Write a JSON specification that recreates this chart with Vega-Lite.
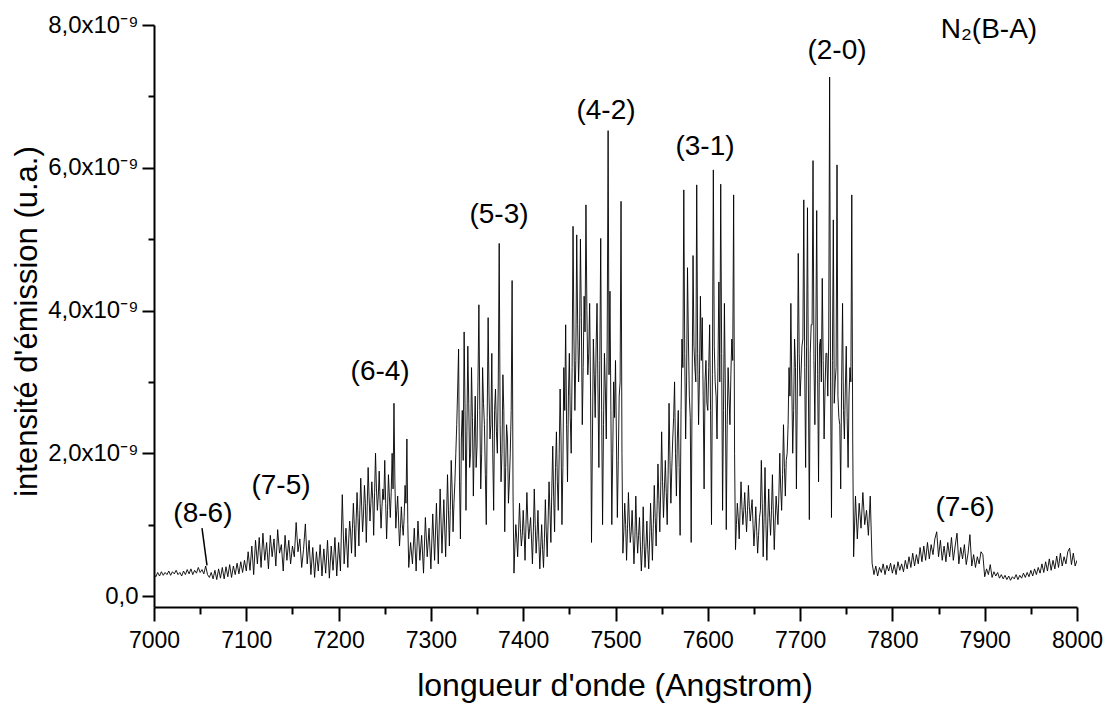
{
"$schema": "https://vega.github.io/schema/vega-lite/v6.json",
"width": 923, "height": 582,
"autosize": {"type": "none"},
"padding": {"left": 154, "top": 25, "right": 31, "bottom": 97},
"background": "white",
"config": {"view": {"stroke": null}, "font": "Liberation Sans"},
"datasets": {
"spec": [
{"w":7000,"i":0.30e-9},{"w":7002,"i":0.27e-9},{"w":7004,"i":0.33e-9},{"w":7006,"i":0.28e-9},{"w":7008,"i":0.34e-9},
{"w":7010,"i":0.29e-9},{"w":7012,"i":0.33e-9},{"w":7014,"i":0.30e-9},{"w":7016,"i":0.35e-9},{"w":7018,"i":0.29e-9},
{"w":7020,"i":0.34e-9},{"w":7022,"i":0.31e-9},{"w":7024,"i":0.36e-9},{"w":7026,"i":0.30e-9},{"w":7028,"i":0.33e-9},
{"w":7030,"i":0.28e-9},{"w":7032,"i":0.35e-9},{"w":7034,"i":0.30e-9},{"w":7036,"i":0.37e-9},{"w":7038,"i":0.31e-9},
{"w":7040,"i":0.38e-9},{"w":7042,"i":0.30e-9},{"w":7044,"i":0.36e-9},{"w":7046,"i":0.32e-9},{"w":7048,"i":0.40e-9},
{"w":7050,"i":0.33e-9},{"w":7052,"i":0.37e-9},{"w":7054,"i":0.31e-9},{"w":7056,"i":0.42e-9},{"w":7058,"i":0.30e-9},
{"w":7060,"i":0.26e-9},{"w":7062,"i":0.33e-9},{"w":7064,"i":0.24e-9},{"w":7066,"i":0.36e-9},{"w":7068,"i":0.23e-9},
{"w":7070,"i":0.38e-9},{"w":7072,"i":0.25e-9},{"w":7074,"i":0.40e-9},{"w":7076,"i":0.24e-9},{"w":7078,"i":0.41e-9},
{"w":7080,"i":0.27e-9},{"w":7082,"i":0.44e-9},{"w":7084,"i":0.26e-9},{"w":7086,"i":0.42e-9},{"w":7088,"i":0.30e-9},
{"w":7090,"i":0.46e-9},{"w":7092,"i":0.31e-9},{"w":7094,"i":0.48e-9},{"w":7096,"i":0.33e-9},{"w":7098,"i":0.50e-9},
{"w":7100,"i":0.35e-9},{"w":7102,"i":0.62e-9},{"w":7104,"i":0.36e-9},{"w":7106,"i":0.70e-9},{"w":7108,"i":0.30e-9},
{"w":7110,"i":0.78e-9},{"w":7112,"i":0.45e-9},{"w":7114,"i":0.82e-9},{"w":7116,"i":0.40e-9},{"w":7118,"i":0.88e-9},
{"w":7120,"i":0.50e-9},{"w":7122,"i":0.75e-9},{"w":7124,"i":0.38e-9},{"w":7126,"i":0.85e-9},{"w":7128,"i":0.55e-9},
{"w":7130,"i":0.80e-9},{"w":7132,"i":0.42e-9},{"w":7134,"i":0.93e-9},{"w":7136,"i":0.60e-9},{"w":7138,"i":0.72e-9},
{"w":7140,"i":0.35e-9},{"w":7142,"i":0.85e-9},{"w":7144,"i":0.50e-9},{"w":7146,"i":0.78e-9},{"w":7148,"i":0.45e-9},
{"w":7150,"i":0.70e-9},{"w":7152,"i":0.55e-9},{"w":7154,"i":1.03e-9},{"w":7156,"i":0.62e-9},{"w":7158,"i":0.80e-9},
{"w":7160,"i":0.40e-9},{"w":7162,"i":0.65e-9},{"w":7164,"i":1.01e-9},{"w":7166,"i":0.45e-9},{"w":7168,"i":0.78e-9},
{"w":7170,"i":0.30e-9},{"w":7172,"i":0.68e-9},{"w":7174,"i":0.26e-9},{"w":7176,"i":0.62e-9},{"w":7178,"i":0.35e-9},
{"w":7180,"i":0.72e-9},{"w":7182,"i":0.28e-9},{"w":7184,"i":0.66e-9},{"w":7186,"i":0.32e-9},{"w":7188,"i":0.78e-9},
{"w":7190,"i":0.25e-9},{"w":7192,"i":0.70e-9},{"w":7194,"i":0.36e-9},{"w":7196,"i":0.82e-9},{"w":7198,"i":0.28e-9},
{"w":7200,"i":0.75e-9},{"w":7202,"i":0.35e-9},{"w":7204,"i":1.42e-9},{"w":7206,"i":0.45e-9},{"w":7208,"i":0.95e-9},
{"w":7210,"i":0.40e-9},{"w":7212,"i":1.05e-9},{"w":7214,"i":0.60e-9},{"w":7216,"i":1.30e-9},{"w":7218,"i":0.55e-9},
{"w":7220,"i":1.45e-9},{"w":7222,"i":0.70e-9},{"w":7224,"i":1.65e-9},{"w":7226,"i":0.90e-9},{"w":7228,"i":1.55e-9},
{"w":7230,"i":0.75e-9},{"w":7232,"i":1.80e-9},{"w":7234,"i":1.05e-9},{"w":7236,"i":1.60e-9},{"w":7238,"i":0.85e-9},
{"w":7240,"i":2.00e-9},{"w":7242,"i":1.20e-9},{"w":7244,"i":1.75e-9},{"w":7246,"i":0.95e-9},{"w":7248,"i":1.50e-9},
{"w":7250,"i":1.90e-9},{"w":7252,"i":0.80e-9},{"w":7254,"i":1.70e-9},{"w":7256,"i":1.10e-9},{"w":7258,"i":2.00e-9},
{"w":7260,"i":2.70e-9},{"w":7262,"i":0.95e-9},{"w":7264,"i":1.40e-9},{"w":7266,"i":0.70e-9},{"w":7268,"i":1.25e-9},
{"w":7270,"i":0.85e-9},{"w":7272,"i":1.55e-9},{"w":7274,"i":2.20e-9},{"w":7276,"i":0.40e-9},{"w":7278,"i":0.75e-9},
{"w":7280,"i":0.45e-9},{"w":7282,"i":0.95e-9},{"w":7284,"i":0.35e-9},{"w":7286,"i":1.05e-9},{"w":7288,"i":0.50e-9},
{"w":7290,"i":0.85e-9},{"w":7292,"i":0.32e-9},{"w":7294,"i":1.10e-9},{"w":7296,"i":0.55e-9},{"w":7298,"i":0.95e-9},
{"w":7300,"i":0.38e-9},{"w":7302,"i":1.15e-9},{"w":7304,"i":0.50e-9},{"w":7306,"i":1.30e-9},{"w":7308,"i":0.45e-9},
{"w":7310,"i":1.50e-9},{"w":7312,"i":0.60e-9},{"w":7314,"i":1.35e-9},{"w":7316,"i":0.55e-9},{"w":7318,"i":1.70e-9},
{"w":7320,"i":0.70e-9},{"w":7322,"i":1.90e-9},{"w":7324,"i":0.90e-9},{"w":7326,"i":1.60e-9},{"w":7328,"i":2.40e-9},
{"w":7330,"i":3.46e-9},{"w":7332,"i":0.80e-9},{"w":7334,"i":2.60e-9},{"w":7336,"i":3.70e-9},{"w":7338,"i":1.20e-9},
{"w":7340,"i":3.50e-9},{"w":7342,"i":1.80e-9},{"w":7344,"i":3.20e-9},{"w":7346,"i":1.40e-9},{"w":7348,"i":2.80e-9},
{"w":7350,"i":2.10e-9},{"w":7352,"i":4.08e-9},{"w":7354,"i":1.50e-9},{"w":7356,"i":3.20e-9},{"w":7358,"i":2.40e-9},
{"w":7360,"i":1.00e-9},{"w":7362,"i":3.90e-9},{"w":7364,"i":2.20e-9},{"w":7366,"i":3.40e-9},{"w":7368,"i":1.20e-9},
{"w":7370,"i":2.90e-9},{"w":7372,"i":2.00e-9},{"w":7374,"i":4.94e-9},{"w":7376,"i":1.60e-9},{"w":7378,"i":3.10e-9},
{"w":7380,"i":0.90e-9},{"w":7382,"i":2.40e-9},{"w":7384,"i":1.30e-9},{"w":7386,"i":2.00e-9},{"w":7388,"i":4.42e-9},
{"w":7390,"i":0.32e-9},{"w":7392,"i":1.00e-9},{"w":7394,"i":0.55e-9},{"w":7396,"i":1.30e-9},{"w":7398,"i":0.70e-9},
{"w":7400,"i":1.20e-9},{"w":7402,"i":0.50e-9},{"w":7404,"i":1.45e-9},{"w":7406,"i":0.80e-9},{"w":7408,"i":1.10e-9},
{"w":7410,"i":0.45e-9},{"w":7412,"i":1.50e-9},{"w":7414,"i":0.60e-9},{"w":7416,"i":1.20e-9},{"w":7418,"i":0.38e-9},
{"w":7420,"i":1.00e-9},{"w":7422,"i":0.40e-9},{"w":7424,"i":1.35e-9},{"w":7426,"i":0.55e-9},{"w":7428,"i":1.60e-9},
{"w":7430,"i":0.75e-9},{"w":7432,"i":2.10e-9},{"w":7434,"i":0.90e-9},{"w":7436,"i":2.30e-9},{"w":7438,"i":1.20e-9},
{"w":7440,"i":2.90e-9},{"w":7442,"i":1.00e-9},{"w":7444,"i":3.20e-9},{"w":7446,"i":3.80e-9},{"w":7448,"i":1.60e-9},
{"w":7450,"i":3.40e-9},{"w":7452,"i":2.00e-9},{"w":7454,"i":5.18e-9},{"w":7456,"i":2.60e-9},{"w":7458,"i":5.06e-9},
{"w":7460,"i":3.00e-9},{"w":7462,"i":5.00e-9},{"w":7464,"i":2.40e-9},{"w":7466,"i":4.20e-9},{"w":7468,"i":5.48e-9},
{"w":7470,"i":3.10e-9},{"w":7472,"i":4.10e-9},{"w":7474,"i":0.75e-9},{"w":7476,"i":3.60e-9},{"w":7478,"i":2.50e-9},
{"w":7480,"i":4.10e-9},{"w":7482,"i":1.80e-9},{"w":7484,"i":5.01e-9},{"w":7486,"i":1.00e-9},{"w":7488,"i":3.40e-9},
{"w":7490,"i":2.20e-9},{"w":7492,"i":6.52e-9},{"w":7494,"i":4.27e-9},{"w":7496,"i":1.00e-9},{"w":7498,"i":3.00e-9},
{"w":7500,"i":3.30e-9},{"w":7502,"i":1.10e-9},{"w":7504,"i":2.80e-9},{"w":7506,"i":5.53e-9},{"w":7508,"i":0.60e-9},
{"w":7510,"i":1.30e-9},{"w":7512,"i":0.50e-9},{"w":7514,"i":1.45e-9},{"w":7516,"i":0.75e-9},{"w":7518,"i":1.20e-9},
{"w":7520,"i":0.45e-9},{"w":7522,"i":1.40e-9},{"w":7524,"i":0.60e-9},{"w":7526,"i":1.10e-9},{"w":7528,"i":0.35e-9},
{"w":7530,"i":1.25e-9},{"w":7532,"i":0.40e-9},{"w":7534,"i":1.05e-9},{"w":7536,"i":0.38e-9},{"w":7538,"i":1.30e-9},
{"w":7540,"i":0.50e-9},{"w":7542,"i":1.55e-9},{"w":7544,"i":0.70e-9},{"w":7546,"i":1.85e-9},{"w":7548,"i":0.90e-9},
{"w":7550,"i":2.30e-9},{"w":7552,"i":1.10e-9},{"w":7554,"i":1.90e-9},{"w":7556,"i":1.00e-9},{"w":7558,"i":2.70e-9},
{"w":7560,"i":1.30e-9},{"w":7562,"i":2.20e-9},{"w":7564,"i":3.00e-9},{"w":7566,"i":1.40e-9},{"w":7568,"i":2.60e-9},
{"w":7570,"i":0.85e-9},{"w":7572,"i":3.60e-9},{"w":7574,"i":5.69e-9},{"w":7576,"i":2.20e-9},{"w":7578,"i":4.60e-9},
{"w":7580,"i":2.80e-9},{"w":7582,"i":0.75e-9},{"w":7584,"i":4.77e-9},{"w":7586,"i":3.20e-9},{"w":7588,"i":5.76e-9},
{"w":7590,"i":2.40e-9},{"w":7592,"i":4.20e-9},{"w":7594,"i":3.90e-9},{"w":7596,"i":1.50e-9},{"w":7598,"i":3.30e-9},
{"w":7600,"i":2.60e-9},{"w":7602,"i":3.80e-9},{"w":7604,"i":1.00e-9},{"w":7606,"i":5.97e-9},{"w":7608,"i":3.00e-9},
{"w":7610,"i":2.20e-9},{"w":7612,"i":4.40e-9},{"w":7614,"i":5.77e-9},{"w":7616,"i":1.20e-9},{"w":7618,"i":4.10e-9},
{"w":7620,"i":0.93e-9},{"w":7622,"i":3.20e-9},{"w":7624,"i":2.40e-9},{"w":7626,"i":3.60e-9},{"w":7628,"i":5.62e-9},
{"w":7630,"i":0.65e-9},{"w":7632,"i":1.30e-9},{"w":7634,"i":0.80e-9},{"w":7636,"i":1.60e-9},{"w":7638,"i":1.00e-9},
{"w":7640,"i":1.45e-9},{"w":7642,"i":0.90e-9},{"w":7644,"i":1.55e-9},{"w":7646,"i":1.05e-9},{"w":7648,"i":1.35e-9},
{"w":7650,"i":0.70e-9},{"w":7652,"i":1.25e-9},{"w":7654,"i":0.60e-9},{"w":7656,"i":1.10e-9},{"w":7658,"i":1.90e-9},
{"w":7660,"i":0.55e-9},{"w":7662,"i":1.80e-9},{"w":7664,"i":0.50e-9},{"w":7666,"i":1.50e-9},{"w":7668,"i":0.85e-9},
{"w":7670,"i":1.70e-9},{"w":7672,"i":0.65e-9},{"w":7674,"i":1.40e-9},{"w":7676,"i":1.00e-9},{"w":7678,"i":2.00e-9},
{"w":7680,"i":1.20e-9},{"w":7682,"i":2.40e-9},{"w":7684,"i":1.40e-9},{"w":7686,"i":2.00e-9},{"w":7688,"i":3.20e-9},
{"w":7690,"i":4.10e-9},{"w":7692,"i":2.00e-9},{"w":7694,"i":3.60e-9},{"w":7696,"i":1.50e-9},{"w":7698,"i":4.80e-9},
{"w":7700,"i":2.80e-9},{"w":7702,"i":3.50e-9},{"w":7704,"i":5.55e-9},{"w":7706,"i":1.80e-9},{"w":7708,"i":5.44e-9},
{"w":7710,"i":1.07e-9},{"w":7712,"i":3.80e-9},{"w":7714,"i":6.10e-9},{"w":7716,"i":2.40e-9},{"w":7718,"i":5.40e-9},
{"w":7720,"i":1.60e-9},{"w":7722,"i":3.60e-9},{"w":7724,"i":4.45e-9},{"w":7726,"i":2.20e-9},{"w":7728,"i":3.40e-9},
{"w":7730,"i":2.80e-9},{"w":7732,"i":7.27e-9},{"w":7734,"i":1.10e-9},{"w":7736,"i":5.27e-9},{"w":7738,"i":3.00e-9},
{"w":7740,"i":6.04e-9},{"w":7742,"i":2.50e-9},{"w":7744,"i":1.50e-9},{"w":7746,"i":4.10e-9},{"w":7748,"i":2.20e-9},
{"w":7750,"i":3.50e-9},{"w":7752,"i":1.80e-9},{"w":7754,"i":3.20e-9},{"w":7756,"i":5.62e-9},{"w":7758,"i":0.55e-9},
{"w":7760,"i":1.40e-9},{"w":7762,"i":0.80e-9},{"w":7764,"i":1.30e-9},{"w":7766,"i":0.95e-9},{"w":7768,"i":1.45e-9},
{"w":7770,"i":1.00e-9},{"w":7772,"i":1.20e-9},{"w":7774,"i":0.85e-9},{"w":7776,"i":1.40e-9},{"w":7778,"i":0.46e-9},
{"w":7780,"i":0.30e-9},{"w":7782,"i":0.42e-9},{"w":7784,"i":0.28e-9},{"w":7786,"i":0.40e-9},{"w":7788,"i":0.33e-9},
{"w":7790,"i":0.45e-9},{"w":7792,"i":0.30e-9},{"w":7794,"i":0.43e-9},{"w":7796,"i":0.35e-9},{"w":7798,"i":0.46e-9},
{"w":7800,"i":0.32e-9},{"w":7802,"i":0.44e-9},{"w":7804,"i":0.30e-9},{"w":7806,"i":0.48e-9},{"w":7808,"i":0.36e-9},
{"w":7810,"i":0.45e-9},{"w":7812,"i":0.34e-9},{"w":7814,"i":0.50e-9},{"w":7816,"i":0.38e-9},{"w":7818,"i":0.55e-9},
{"w":7820,"i":0.40e-9},{"w":7822,"i":0.60e-9},{"w":7824,"i":0.42e-9},{"w":7826,"i":0.58e-9},{"w":7828,"i":0.45e-9},
{"w":7830,"i":0.68e-9},{"w":7832,"i":0.48e-9},{"w":7834,"i":0.70e-9},{"w":7836,"i":0.50e-9},{"w":7838,"i":0.75e-9},
{"w":7840,"i":0.52e-9},{"w":7842,"i":0.72e-9},{"w":7844,"i":0.58e-9},{"w":7846,"i":0.80e-9},{"w":7848,"i":0.90e-9},
{"w":7850,"i":0.55e-9},{"w":7852,"i":0.78e-9},{"w":7854,"i":0.50e-9},{"w":7856,"i":0.70e-9},{"w":7858,"i":0.48e-9},
{"w":7860,"i":0.75e-9},{"w":7862,"i":0.55e-9},{"w":7864,"i":0.82e-9},{"w":7866,"i":0.50e-9},{"w":7868,"i":0.70e-9},
{"w":7870,"i":0.88e-9},{"w":7872,"i":0.45e-9},{"w":7874,"i":0.68e-9},{"w":7876,"i":0.52e-9},{"w":7878,"i":0.72e-9},
{"w":7880,"i":0.44e-9},{"w":7882,"i":0.60e-9},{"w":7884,"i":0.86e-9},{"w":7886,"i":0.42e-9},{"w":7888,"i":0.58e-9},
{"w":7890,"i":0.40e-9},{"w":7892,"i":0.55e-9},{"w":7894,"i":0.45e-9},{"w":7896,"i":0.62e-9},{"w":7898,"i":0.58e-9},
{"w":7900,"i":0.27e-9},{"w":7902,"i":0.38e-9},{"w":7904,"i":0.30e-9},{"w":7906,"i":0.44e-9},{"w":7908,"i":0.26e-9},
{"w":7910,"i":0.34e-9},{"w":7912,"i":0.28e-9},{"w":7914,"i":0.33e-9},{"w":7916,"i":0.25e-9},{"w":7918,"i":0.30e-9},
{"w":7920,"i":0.24e-9},{"w":7922,"i":0.29e-9},{"w":7924,"i":0.23e-9},{"w":7926,"i":0.28e-9},{"w":7928,"i":0.22e-9},
{"w":7930,"i":0.27e-9},{"w":7932,"i":0.24e-9},{"w":7934,"i":0.30e-9},{"w":7936,"i":0.23e-9},{"w":7938,"i":0.29e-9},
{"w":7940,"i":0.25e-9},{"w":7942,"i":0.32e-9},{"w":7944,"i":0.26e-9},{"w":7946,"i":0.33e-9},{"w":7948,"i":0.27e-9},
{"w":7950,"i":0.36e-9},{"w":7952,"i":0.28e-9},{"w":7954,"i":0.38e-9},{"w":7956,"i":0.30e-9},{"w":7958,"i":0.40e-9},
{"w":7960,"i":0.32e-9},{"w":7962,"i":0.45e-9},{"w":7964,"i":0.33e-9},{"w":7966,"i":0.48e-9},{"w":7968,"i":0.35e-9},
{"w":7970,"i":0.52e-9},{"w":7972,"i":0.36e-9},{"w":7974,"i":0.50e-9},{"w":7976,"i":0.38e-9},{"w":7978,"i":0.56e-9},
{"w":7980,"i":0.40e-9},{"w":7982,"i":0.60e-9},{"w":7984,"i":0.42e-9},{"w":7986,"i":0.55e-9},{"w":7988,"i":0.45e-9},
{"w":7990,"i":0.62e-9},{"w":7992,"i":0.67e-9},{"w":7994,"i":0.44e-9},{"w":7996,"i":0.60e-9},{"w":7998,"i":0.42e-9},
{"w":8000,"i":0.50e-9},
{"w":7211,"i":0.80e-9},{"w":7213,"i":0.90e-9},{"w":7215,"i":0.95e-9},{"w":7217,"i":1.00e-9},{"w":7219,"i":1.05e-9},
{"w":7221,"i":1.10e-9},{"w":7223,"i":1.20e-9},{"w":7225,"i":1.25e-9},{"w":7227,"i":1.15e-9},{"w":7229,"i":1.30e-9},
{"w":7231,"i":1.25e-9},{"w":7233,"i":1.40e-9},{"w":7235,"i":1.30e-9},{"w":7237,"i":1.35e-9},{"w":7239,"i":1.45e-9},
{"w":7241,"i":1.50e-9},{"w":7243,"i":1.40e-9},{"w":7245,"i":1.30e-9},{"w":7247,"i":1.25e-9},{"w":7249,"i":1.35e-9},
{"w":7251,"i":1.30e-9},{"w":7253,"i":1.20e-9},{"w":7255,"i":1.40e-9},{"w":7257,"i":1.45e-9},{"w":7259,"i":1.50e-9},
{"w":7261,"i":1.60e-9},{"w":7263,"i":1.20e-9},{"w":7265,"i":1.05e-9},{"w":7267,"i":0.95e-9},{"w":7269,"i":1.00e-9},
{"w":7271,"i":1.10e-9},{"w":7273,"i":1.30e-9},{"w":7275,"i":1.00e-9},
{"w":7321,"i":1.20e-9},{"w":7323,"i":1.50e-9},{"w":7325,"i":1.30e-9},{"w":7327,"i":2.00e-9},{"w":7329,"i":2.90e-9},
{"w":7331,"i":1.60e-9},{"w":7333,"i":2.20e-9},{"w":7335,"i":1.90e-9},{"w":7337,"i":2.60e-9},{"w":7339,"i":2.30e-9},
{"w":7341,"i":2.70e-9},{"w":7343,"i":2.00e-9},{"w":7345,"i":2.50e-9},{"w":7347,"i":2.20e-9},{"w":7349,"i":1.80e-9},
{"w":7351,"i":3.00e-9},{"w":7353,"i":2.60e-9},{"w":7355,"i":2.00e-9},{"w":7357,"i":2.70e-9},{"w":7359,"i":1.70e-9},
{"w":7361,"i":2.50e-9},{"w":7363,"i":2.80e-9},{"w":7365,"i":2.40e-9},{"w":7367,"i":2.00e-9},{"w":7369,"i":2.60e-9},
{"w":7371,"i":2.30e-9},{"w":7373,"i":3.00e-9},{"w":7375,"i":2.40e-9},{"w":7377,"i":2.00e-9},{"w":7379,"i":2.60e-9},
{"w":7381,"i":1.80e-9},{"w":7383,"i":2.20e-9},{"w":7385,"i":1.60e-9},{"w":7387,"i":2.60e-9},{"w":7389,"i":1.40e-9},
{"w":7391,"i":0.70e-9},{"w":7393,"i":0.80e-9},{"w":7395,"i":0.90e-9},{"w":7397,"i":0.95e-9},{"w":7399,"i":0.85e-9},
{"w":7401,"i":0.90e-9},{"w":7403,"i":1.00e-9},{"w":7405,"i":1.05e-9},{"w":7407,"i":0.95e-9},{"w":7409,"i":0.80e-9},
{"w":7411,"i":0.90e-9},{"w":7413,"i":1.00e-9},{"w":7415,"i":0.85e-9},{"w":7417,"i":0.75e-9},{"w":7419,"i":0.70e-9},
{"w":7421,"i":0.65e-9},{"w":7423,"i":0.80e-9},{"w":7425,"i":0.90e-9},{"w":7427,"i":1.05e-9},{"w":7429,"i":1.20e-9},
{"w":7431,"i":1.50e-9},{"w":7433,"i":1.40e-9},{"w":7435,"i":1.80e-9},{"w":7437,"i":1.60e-9},{"w":7439,"i":2.00e-9},
{"w":7441,"i":2.20e-9},{"w":7443,"i":1.80e-9},{"w":7445,"i":2.60e-9},{"w":7447,"i":2.40e-9},{"w":7449,"i":2.80e-9},
{"w":7451,"i":2.50e-9},{"w":7453,"i":3.20e-9},{"w":7455,"i":3.60e-9},{"w":7457,"i":3.30e-9},{"w":7459,"i":3.80e-9},
{"w":7461,"i":3.50e-9},{"w":7463,"i":3.90e-9},{"w":7465,"i":3.20e-9},{"w":7467,"i":3.70e-9},{"w":7469,"i":4.00e-9},
{"w":7471,"i":3.40e-9},{"w":7473,"i":2.80e-9},{"w":7475,"i":2.20e-9},{"w":7477,"i":3.10e-9},{"w":7479,"i":3.50e-9},
{"w":7481,"i":2.90e-9},{"w":7483,"i":3.30e-9},{"w":7485,"i":2.60e-9},{"w":7487,"i":2.40e-9},{"w":7489,"i":2.90e-9},
{"w":7491,"i":3.60e-9},{"w":7493,"i":3.10e-9},{"w":7495,"i":2.60e-9},{"w":7497,"i":2.00e-9},{"w":7499,"i":2.50e-9},
{"w":7501,"i":2.20e-9},{"w":7503,"i":1.90e-9},{"w":7505,"i":3.00e-9},{"w":7507,"i":2.00e-9},
{"w":7509,"i":0.90e-9},{"w":7511,"i":1.00e-9},{"w":7513,"i":0.95e-9},{"w":7515,"i":1.05e-9},{"w":7517,"i":0.90e-9},
{"w":7519,"i":0.85e-9},{"w":7521,"i":0.80e-9},{"w":7523,"i":0.90e-9},{"w":7525,"i":0.85e-9},{"w":7527,"i":0.70e-9},
{"w":7529,"i":0.65e-9},{"w":7531,"i":0.75e-9},{"w":7533,"i":0.70e-9},{"w":7535,"i":0.65e-9},{"w":7537,"i":0.80e-9},
{"w":7539,"i":0.90e-9},{"w":7541,"i":1.00e-9},{"w":7543,"i":1.10e-9},{"w":7545,"i":1.20e-9},{"w":7547,"i":1.35e-9},
{"w":7549,"i":1.50e-9},{"w":7551,"i":1.60e-9},{"w":7553,"i":1.50e-9},{"w":7555,"i":1.45e-9},{"w":7557,"i":1.70e-9},
{"w":7559,"i":1.90e-9},
{"w":7561,"i":1.80e-9},{"w":7563,"i":2.50e-9},{"w":7565,"i":2.00e-9},{"w":7567,"i":2.20e-9},{"w":7569,"i":1.80e-9},
{"w":7571,"i":2.60e-9},{"w":7573,"i":3.20e-9},{"w":7575,"i":3.40e-9},{"w":7577,"i":3.00e-9},{"w":7579,"i":3.60e-9},
{"w":7581,"i":2.50e-9},{"w":7583,"i":2.90e-9},{"w":7585,"i":3.50e-9},{"w":7587,"i":3.00e-9},{"w":7589,"i":3.40e-9},
{"w":7591,"i":3.10e-9},{"w":7593,"i":3.30e-9},{"w":7595,"i":2.80e-9},{"w":7597,"i":3.00e-9},{"w":7599,"i":2.70e-9},
{"w":7601,"i":3.20e-9},{"w":7603,"i":2.60e-9},{"w":7605,"i":3.10e-9},{"w":7607,"i":3.50e-9},{"w":7609,"i":2.80e-9},
{"w":7611,"i":3.20e-9},{"w":7613,"i":3.00e-9},{"w":7615,"i":3.40e-9},{"w":7617,"i":2.60e-9},{"w":7619,"i":2.90e-9},
{"w":7621,"i":2.40e-9},{"w":7623,"i":2.80e-9},{"w":7625,"i":3.10e-9},{"w":7627,"i":3.30e-9},{"w":7629,"i":2.00e-9},
{"w":7631,"i":1.00e-9},{"w":7633,"i":1.10e-9},{"w":7635,"i":1.20e-9},{"w":7637,"i":1.25e-9},{"w":7639,"i":1.20e-9},
{"w":7641,"i":1.15e-9},{"w":7643,"i":1.20e-9},{"w":7645,"i":1.25e-9},{"w":7647,"i":1.20e-9},{"w":7649,"i":1.00e-9},
{"w":7651,"i":0.95e-9},{"w":7653,"i":0.90e-9},{"w":7655,"i":0.85e-9},{"w":7657,"i":1.20e-9},{"w":7659,"i":1.30e-9},
{"w":7661,"i":1.10e-9},{"w":7663,"i":1.00e-9},{"w":7665,"i":1.05e-9},{"w":7667,"i":1.10e-9},{"w":7669,"i":1.20e-9},
{"w":7671,"i":1.15e-9},{"w":7673,"i":1.05e-9},{"w":7675,"i":1.20e-9},{"w":7677,"i":1.40e-9},{"w":7679,"i":1.50e-9},
{"w":7681,"i":1.70e-9},{"w":7683,"i":1.80e-9},{"w":7685,"i":1.90e-9},
{"w":7687,"i":2.40e-9},{"w":7689,"i":2.80e-9},{"w":7691,"i":3.00e-9},{"w":7693,"i":2.60e-9},{"w":7695,"i":3.20e-9},
{"w":7697,"i":2.90e-9},{"w":7699,"i":3.40e-9},{"w":7701,"i":3.10e-9},{"w":7703,"i":3.60e-9},{"w":7705,"i":3.20e-9},
{"w":7707,"i":3.50e-9},{"w":7709,"i":2.90e-9},{"w":7711,"i":3.40e-9},{"w":7713,"i":3.80e-9},{"w":7715,"i":3.30e-9},
{"w":7717,"i":3.60e-9},{"w":7719,"i":3.10e-9},{"w":7721,"i":3.50e-9},{"w":7723,"i":3.00e-9},{"w":7725,"i":3.30e-9},
{"w":7727,"i":2.90e-9},{"w":7729,"i":3.40e-9},{"w":7731,"i":3.60e-9},{"w":7733,"i":3.00e-9},{"w":7735,"i":3.30e-9},
{"w":7737,"i":2.70e-9},{"w":7739,"i":3.20e-9},{"w":7741,"i":2.80e-9},{"w":7743,"i":2.40e-9},{"w":7745,"i":3.00e-9},
{"w":7747,"i":2.60e-9},{"w":7749,"i":2.90e-9},{"w":7751,"i":2.50e-9},{"w":7753,"i":2.80e-9},{"w":7755,"i":3.00e-9},
{"w":7757,"i":2.20e-9}
],
"ann": [
{"w":7053,"i":1.15e-9,"t":"(8-6)"},
{"w":7137.6,"i":1.54e-9,"t":"(7-5)"},
{"w":7245,"i":3.14e-9,"t":"(6-4)"},
{"w":7373.8,"i":5.34e-9,"t":"(5-3)"},
{"w":7489.7,"i":6.80e-9,"t":"(4-2)"},
{"w":7597,"i":6.29e-9,"t":"(3-1)"},
{"w":7740,"i":7.63e-9,"t":"(2-0)"},
{"w":7904.6,"i":7.93e-9,"t":"N₂(B-A)"},
{"w":7878.7,"i":1.23e-9,"t":"(7-6)"}
],
"lead": [
{"w":7052,"i":0.95e-9,"w2":7057.4,"i2":0.43e-9}
]
},
"layer": [
{
"data": {"name": "spec"},
"mark": {"type": "line", "color": "black", "strokeWidth": 0.9, "clip": true},
"encoding": {
"x": {"field": "w", "type": "quantitative",
 "scale": {"domain": [7000, 8000], "nice": false, "zero": false},
 "axis": {
  "values": [7000,7050,7100,7150,7200,7250,7300,7350,7400,7450,7500,7550,7600,7650,7700,7750,7800,7850,7900,7950,8000],
  "title": "longueur d'onde (Angstrom)",
  "grid": false,
  "domainColor": "black", "domainWidth": 2,
  "tickColor": "black", "tickWidth": 2,
  "tickSize": {"condition": {"test": "datum.value % 100 != 0", "value": 7}, "value": 14},
  "labelExpr": "datum.value % 100 == 0 ? format(datum.value, 'd') : ''",
  "labelFont": "Liberation Sans", "labelFontSize": 23, "labelColor": "black", "labelPadding": 8,
  "labelOverlap": false, "labelFlush": false,
  "titleFont": "Liberation Sans", "titleFontSize": 32, "titleFontWeight": "normal", "titleColor": "black",
  "titleX": 460.5, "titleY": 88, "titleBaseline": "alphabetic", "titleAlign": "center"
 }},
"y": {"field": "i", "type": "quantitative",
 "scale": {"domain": [-0.154e-9, 8e-9], "nice": false, "zero": false},
 "axis": {
  "values": [0, 1e-9, 2e-9, 3e-9, 4e-9, 5e-9, 6e-9, 7e-9, 8e-9],
  "title": "intensité d'émission (u.a.)",
  "grid": false,
  "domainColor": "black", "domainWidth": 2,
  "tickColor": "black", "tickWidth": 2,
  "tickSize": {"condition": {"test": "round(datum.value * 1e9) % 2 == 1", "value": 6}, "value": 12},
  "labelExpr": "round(datum.value * 1e9) % 2 == 1 ? '' : (datum.value == 0 ? '0,0' : round(datum.value * 1e9) + ',0x10⁻⁹')",
  "labelFont": "Liberation Sans", "labelFontSize": 24, "labelColor": "black", "labelPadding": 4,
  "labelOverlap": false, "labelFlush": false,
  "titleFont": "Liberation Sans", "titleFontSize": 31, "titleFontWeight": "normal", "titleColor": "black",
  "titleX": -127, "titleY": 296, "titleAngle": -90, "titleBaseline": "middle", "titleAlign": "center"
 }}
}
},
{
"data": {"name": "lead"},
"mark": {"type": "rule", "color": "black", "strokeWidth": 1.5},
"encoding": {
"x": {"field": "w", "type": "quantitative"},
"y": {"field": "i", "type": "quantitative"},
"x2": {"field": "w2"},
"y2": {"field": "i2"}
}
},
{
"data": {"name": "ann"},
"mark": {"type": "text", "font": "Liberation Sans", "fontSize": 28, "align": "center", "baseline": "middle", "color": "black"},
"encoding": {
"x": {"field": "w", "type": "quantitative"},
"y": {"field": "i", "type": "quantitative"},
"text": {"field": "t"}
}
}
]
}
